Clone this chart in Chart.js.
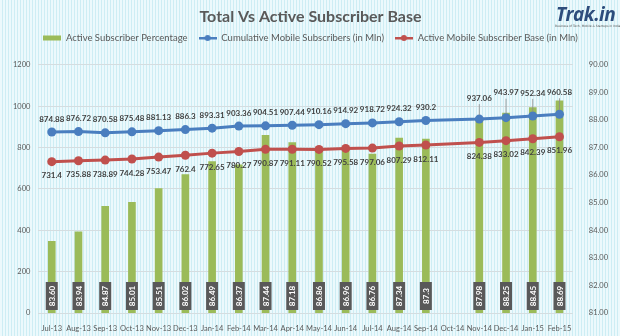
<!DOCTYPE html>
<html>
<head>
<meta charset="utf-8">
<script src="https://cdn.jsdelivr.net/npm/chart.js@4"></script>
<style>
    html, body {
        margin: 0;
        padding: 0;
    }
    body {
        width: 620px;
        height: 336px;
        overflow: hidden;
        position: relative;
        background: repeating-linear-gradient(90deg, #ecf9fc 0px, #ecf9fc 2px, #cdedf4 2px, #cdedf4 3px);
    }
    #wrap {
        position: absolute;
        left: 0;
        top: 0;
        width: 620px;
        height: 336px;
    }
    .logo {
        position: absolute;
        left: 556px;
        top: 1px;
        font-family: "Open Sans", sans-serif;
        font-weight: bold;
        font-style: italic;
        font-size: 19px;
        color: #2d4d7c;
        letter-spacing: -0.5px;
    }
    .tagline {
        position: absolute;
        left: 555px;
        top: 24px;
        font-family: "DejaVu Sans", sans-serif;
        font-size: 3px;
        color: #555;
        white-space: nowrap;
    }
</style>
</head>
<body>
<div id="wrap"><canvas id="grafik" width="620" height="336"></canvas></div>
<div class="logo">Trak.in</div>
<div class="tagline">Business of Tech, Mobile &amp; Startups in India</div>
<script>
// Aylar
const months = ["Jul-13", "Aug-13", "Sep-13", "Oct-13", "Nov-13", "Dec-13", "Jan-14", "Feb-14", "Mar-14", "Apr-14",
    "May-14", "Jun-14", "Jul-14", "Aug-14", "Sep-14", "Oct-14", "Nov-14", "Dec-14", "Jan-15", "Feb-15"];

// Aktif abone yüzdesi (sağ eksen)
const activePct = ["83.60", "83.94", "84.87", "85.01", "85.51", "86.02", "86.49", "86.37", "87.44", "87.18",
    "86.86", "86.96", "86.76", "87.34", "87.3", null, "87.98", "88.25", "88.45", "88.69"];

// Toplam mobil abone (milyon)
const cumulativeSubs = [874.88, 876.72, 870.58, 875.48, 881.13, 886.3, 893.31, 903.36, 904.51, 907.44,
    910.16, 914.92, 918.72, 924.32, 930.2, null, 937.06, 943.97, 952.34, 960.58];

// Aktif mobil abone (milyon)
const activeSubs = [731.4, 735.88, 738.89, 744.28, 753.47, 762.4, 772.65, 780.27, 790.87, 791.11,
    790.52, 795.58, 797.06, 807.29, 812.11, null, 824.38, 833.02, 842.39, 851.96];

// Eksen ayarları
const leftTicks = [0, 200, 400, 600, 800, 1000, 1200];
const rightTicks = [81, 82, 83, 84, 85, 86, 87, 88, 89, 90];

const GREEN = "#9bbb59";
const BLUE = "#4a7ebf";
const RED = "#c0504d";
const FONT = "Lato, 'Open Sans', sans-serif";

// Son dört mavi etiket yukarı kaydırılmış (leader line ile)
const blueLift = { 16: 21, 17: 25, 18: 23, 19: 22 };

function legendIcon(color, isLine) {
    const c = document.createElement("canvas");
    c.width = 18;
    c.height = 8;
    const g = c.getContext("2d");
    g.fillStyle = color;
    if (isLine) {
        g.fillRect(0, 3, 18, 2.5);
        g.beginPath();
        g.arc(9, 4, 3, 0, Math.PI * 2);
        g.fill();
    } else {
        g.fillRect(0, 1.5, 18, 5);
    }
    return c;
}

// Lejant altına boşluk ekle
const legendSpacer = {
    id: "lejantBosluk",
    afterInit(chart) {
        const lg = chart.legend;
        if (!lg) return;
        const origFit = lg.fit;
        lg.fit = function () {
            origFit.call(this);
            this.height += 12;
        };
    },
};

// Veri etiketleri
const labelPlugin = {
    id: "veriEtiketleri",
    afterDatasetsDraw(chart) {
        const ctx = chart.ctx;
        const area = chart.chartArea;
        ctx.save();

        // Mavi çizgi etiketleri (üstte)
        const blueMeta = chart.getDatasetMeta(1);
        ctx.font = "bold 8px " + FONT;
        ctx.fillStyle = "#404040";
        ctx.textAlign = "center";
        ctx.textBaseline = "middle";
        blueMeta.data.forEach((pt, i) => {
            const v = cumulativeSubs[i];
            if (v == null) return;
            const lift = blueLift[i] || 13;
            const ly = pt.y - lift;
            if (blueLift[i]) {
                ctx.strokeStyle = "#8c8c8c";
                ctx.lineWidth = 0.8;
                ctx.beginPath();
                ctx.moveTo(pt.x, ly + 6);
                ctx.lineTo(pt.x, pt.y - 4);
                ctx.stroke();
            }
            ctx.fillText(String(v), pt.x, ly);
        });

        // Kırmızı çizgi etiketleri (altta)
        const redMeta = chart.getDatasetMeta(2);
        redMeta.data.forEach((pt, i) => {
            const v = activeSubs[i];
            if (v == null) return;
            ctx.fillText(String(v), pt.x, pt.y + 14);
        });

        // Yüzde etiketleri (çubukların dibinde, dikey)
        const barMeta = chart.getDatasetMeta(0);
        barMeta.data.forEach((bar, i) => {
            const v = activePct[i];
            if (v == null) return;
            const bw = 12, bh = 28;
            const cy = area.bottom - 17;
            ctx.fillStyle = "#595959";
            ctx.fillRect(bar.x - bw / 2, cy - bh / 2, bw, bh);
            ctx.save();
            ctx.translate(bar.x, cy);
            ctx.rotate(-Math.PI / 2);
            ctx.fillStyle = "#ffffff";
            ctx.font = "bold 8px " + FONT;
            ctx.fillText(v, 0, 0.5);
            ctx.restore();
        });

        ctx.restore();
    },
};

const ctx = document.getElementById("grafik").getContext("2d");

new Chart(ctx, {
    type: "bar",
    data: {
        labels: months,
        datasets: [
            {
                type: "bar",
                label: "Active Subscriber Percentage",
                data: activePct.map((v) => (v == null ? null : Number(v))),
                backgroundColor: GREEN,
                barThickness: 7,
                yAxisID: "y1",
                order: 3,
            },
            {
                type: "line",
                label: "Cumulative Mobile Subscribers (in Mln)",
                data: cumulativeSubs,
                borderColor: BLUE,
                backgroundColor: BLUE,
                borderWidth: 3,
                pointRadius: 4.5,
                pointBorderWidth: 0,
                spanGaps: true,
                yAxisID: "y",
                order: 1,
            },
            {
                type: "line",
                label: "Active Mobile Subscriber Base (in Mln)",
                data: activeSubs,
                borderColor: RED,
                backgroundColor: RED,
                borderWidth: 3,
                pointRadius: 4.5,
                pointBorderWidth: 0,
                spanGaps: true,
                yAxisID: "y",
                order: 2,
            },
        ],
    },
    options: {
        responsive: false,
        animation: false,
        layout: {
            padding: { left: 5, right: 4, bottom: 0, top: 0 },
        },
        plugins: {
            title: {
                display: true,
                text: "Total Vs Active Subscriber Base",
                color: "#595959",
                font: { family: FONT, size: 16, weight: "bold" },
                padding: { top: 7, bottom: -4 },
            },
            legend: {
                position: "top",
                labels: {
                    color: "#595959",
                    font: { family: FONT, size: 9.5 },
                    usePointStyle: true,
                    pointStyleWidth: 18,
                    boxHeight: 8,
                    padding: 11,
                    generateLabels: (chart) =>
                        chart.data.datasets.map((ds, i) => ({
                            text: ds.label,
                            pointStyle: legendIcon(ds.borderColor || ds.backgroundColor, ds.type === "line"),
                            fillStyle: ds.backgroundColor,
                            strokeStyle: ds.backgroundColor,
                            lineWidth: 0,
                            fontColor: "#595959",
                            datasetIndex: i,
                        })),
                },
            },
            tooltip: { enabled: false },
        },
        scales: {
            x: {
                grid: { display: false },
                border: { display: false },
                ticks: {
                    color: "#595959",
                    font: { family: FONT, size: 7.5 },
                    maxRotation: 0,
                    autoSkip: false,
                    padding: 3,
                },
            },
            y: {
                position: "left",
                min: leftTicks[0],
                max: leftTicks[leftTicks.length - 1],
                afterBuildTicks: (axis) => {
                    axis.ticks = leftTicks.map((v) => ({ value: v }));
                },
                grid: { color: "#d4dde0", drawTicks: false },
                border: { display: false },
                ticks: {
                    color: "#595959",
                    font: { family: FONT, size: 7.5 },
                    padding: 8,
                    callback: (v) => String(v),
                },
            },
            y1: {
                position: "right",
                min: rightTicks[0],
                max: rightTicks[rightTicks.length - 1],
                afterBuildTicks: (axis) => {
                    axis.ticks = rightTicks.map((v) => ({ value: v }));
                },
                grid: { display: false },
                border: { display: false },
                ticks: {
                    color: "#595959",
                    font: { family: FONT, size: 7.5 },
                    padding: 8,
                    callback: (v) => Number(v).toFixed(2),
                },
            },
        },
    },
    plugins: [legendSpacer, labelPlugin],
});
</script>
</body>
</html>
